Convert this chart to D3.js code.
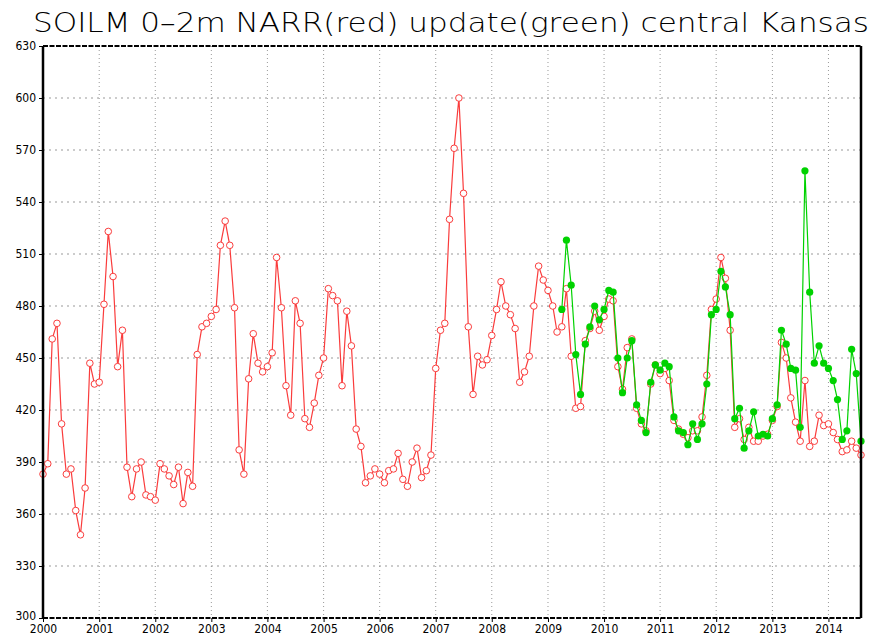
<!DOCTYPE html>
<html>
<head>
<meta charset="utf-8">
<script src="https://cdn.jsdelivr.net/npm/d3@7"></script>
<style>
  body { margin: 0; background: #fff; }
  .lbl { font-family: "Liberation Sans Narrow", "DejaVu Sans Condensed", "Arial Narrow", sans-serif; font-size: 12px; fill: #000; }
</style>
</head>
<body>
<div id="chart"></div>
<script>
var width = 877,
  height = 637;

// monthly series, first month given, one value per month
var narrStart = "2000-01";
var narrValues = [
  383, 389, 461, 470, 412, 383, 386, 362, 348, 375, 447, 435,
  436, 481, 523, 497, 445, 466, 387, 370, 386, 390, 371, 370,
  368, 389, 386, 382, 377, 387, 366, 384, 376, 452, 468, 470,
  474, 478, 515, 529, 515, 479, 397, 383, 438, 464, 447, 442,
  445, 453, 508, 479, 434, 417, 483, 470, 415, 410, 424, 440,
  450, 490, 486, 483, 434, 477, 457, 409, 399, 378, 382, 386,
  383, 378, 385, 386, 395, 380, 376, 390, 398, 381, 385, 394,
  444, 466, 470, 530, 571, 600, 545, 468, 429, 451, 446, 449,
  463, 478, 494, 480, 475, 467, 436, 442, 451, 480, 503, 495,
  489, 480, 465, 468, 490, 451, 421, 422, 460, 467, 477, 466,
  474, 484, 483, 445, 432, 456, 461, 421, 412, 408, 435, 446,
  441, 444, 437, 414, 409, 406, 404, 408, 408, 416, 440, 478,
  484, 508, 496, 466, 410, 415, 403, 410, 402, 402, 405, 406,
  414, 422, 459, 450, 427, 413, 402, 437, 399, 402, 417, 411,
  412, 407, 403, 396, 397, 402, 398, 394
];

var updateStart = "2009-04";
var updateValues = [
  478, 518, 492, 452, 429, 458, 468, 480, 472,
  478, 489, 488, 450, 430, 450, 460, 423, 414, 407, 436, 446,
  443, 447, 445, 416, 408, 407, 400, 412, 403, 412, 435, 475,
  478, 500, 491, 475, 415, 421, 398, 408, 419, 405, 406, 405,
  415, 423, 466, 458, 444, 443, 410, 558, 488, 447, 457, 447,
  444, 437, 426, 403, 408, 455, 441, 402
];

var yTicks = [300, 330, 360, 390, 420, 450, 480, 510, 540, 570, 600, 630];
var yearTicks = [2000, 2001, 2002, 2003, 2004, 2005, 2006, 2007, 2008, 2009, 2010, 2011, 2012, 2013, 2014];

var titleText = "SOILM 0\u20132m NARR(red) update(green) central Kansas";

var parseMonth = d3.timeParse("%Y-%m");

function toSeries(start, values) {
  var t0 = parseMonth(start);
  return values.map(function(v, i) {
    return {date: d3.timeMonth.offset(t0, i), value: v};
  });
}

var narr = toSeries(narrStart, narrValues);
var update = toSeries(updateStart, updateValues);

// plot box
var plotLeft = 43, plotRight = 861, plotTop = 46, plotBottom = 618;

var x = d3.scaleTime()
  .domain([narr[0].date, narr[narr.length - 1].date])
  .range([plotLeft, plotRight]);

var y = d3.scaleLinear()
  .domain([300, 630])
  .range([plotBottom, plotTop]);

var svg = d3.select("#chart").append("svg")
  .attr("width", width)
  .attr("height", height);

svg.append("rect")
  .attr("width", width)
  .attr("height", height)
  .attr("fill", "#fff");

// title
svg.append("text")
  .attr("x", 451)
  .attr("y", 32)
  .attr("text-anchor", "middle")
  .attr("textLength", 836)
  .attr("lengthAdjust", "spacingAndGlyphs")
  .style("font-family", "'DejaVu Sans', sans-serif")
  .style("font-weight", 200)
  .style("font-size", "27px")
  .text(titleText);

// grid
var grid = svg.append("g");
grid.selectAll(".hgrid")
  .data(yTicks.slice(1, -1))
  .enter().append("line")
  .attr("x1", plotLeft).attr("x2", plotRight)
  .attr("y1", function(d) { return y(d); })
  .attr("y2", function(d) { return y(d); })
  .attr("stroke", "#999")
  .attr("stroke-width", 1)
  .attr("stroke-dasharray", "2,4");

grid.selectAll(".vgrid")
  .data(yearTicks.slice(1))
  .enter().append("line")
  .attr("x1", function(d) { return x(new Date(d, 0, 1)); })
  .attr("x2", function(d) { return x(new Date(d, 0, 1)); })
  .attr("y1", plotTop).attr("y2", plotBottom)
  .attr("stroke", "#999")
  .attr("stroke-width", 1)
  .attr("stroke-dasharray", "1,3");

var line = d3.line()
  .x(function(d) { return x(d.date); })
  .y(function(d) { return y(d.value); });

// NARR (red), open markers
svg.append("path")
  .datum(narr)
  .attr("fill", "none")
  .attr("stroke", "#fa3c3c")
  .attr("stroke-width", 1.2)
  .attr("d", line);

svg.append("g").selectAll("circle")
  .data(narr)
  .enter().append("circle")
  .attr("cx", function(d) { return x(d.date); })
  .attr("cy", function(d) { return y(d.value); })
  .attr("r", 3.3)
  .attr("fill", "#fff")
  .attr("stroke", "#fa3c3c")
  .attr("stroke-width", 1);

// update (green), filled markers
svg.append("path")
  .datum(update)
  .attr("fill", "none")
  .attr("stroke", "#00d200")
  .attr("stroke-width", 1.2)
  .attr("d", line);

svg.append("g").selectAll("circle")
  .data(update)
  .enter().append("circle")
  .attr("cx", function(d) { return x(d.date); })
  .attr("cy", function(d) { return y(d.value); })
  .attr("r", 3.6)
  .attr("fill", "#00d200");

// frame: solid sides, dashed top/bottom
var frame = svg.append("g").attr("stroke", "#000");
frame.append("line").attr("x1", plotLeft).attr("x2", plotLeft).attr("y1", plotTop).attr("y2", plotBottom).attr("stroke-width", 2.5);
frame.append("line").attr("x1", plotRight).attr("x2", plotRight).attr("y1", plotTop).attr("y2", plotBottom).attr("stroke-width", 2.5);
frame.append("line").attr("x1", plotLeft).attr("x2", plotRight).attr("y1", plotTop).attr("y2", plotTop)
  .attr("stroke-width", 2).attr("stroke-dasharray", "5,1.5");
frame.append("line").attr("x1", plotLeft).attr("x2", plotRight).attr("y1", plotBottom).attr("y2", plotBottom)
  .attr("stroke-width", 2).attr("stroke-dasharray", "5,1.5");

// axes
var yAxis = svg.append("g")
  .attr("transform", "translate(" + plotLeft + ",0)")
  .call(d3.axisLeft(y).tickValues(yTicks).tickSize(4).tickPadding(3).tickSizeOuter(0));

var xAxis = svg.append("g")
  .attr("transform", "translate(0," + plotBottom + ")")
  .call(d3.axisBottom(x)
    .tickValues(yearTicks.map(function(d) { return new Date(d, 0, 1); }))
    .tickFormat(d3.timeFormat("%Y"))
    .tickSize(4).tickPadding(2).tickSizeOuter(0));

[yAxis, xAxis].forEach(function(a) {
  a.select(".domain").remove();
  a.selectAll("line").attr("stroke", "#000");
  a.selectAll("text").attr("class", "lbl").attr("font-family", null).attr("font-size", null);
});

// lift the bottom y label a little so it clears the year labels
yAxis.selectAll(".tick text")
  .filter(function(d) { return d === 300; })
  .attr("dy", "0.1em");
</script>
</body>
</html>
